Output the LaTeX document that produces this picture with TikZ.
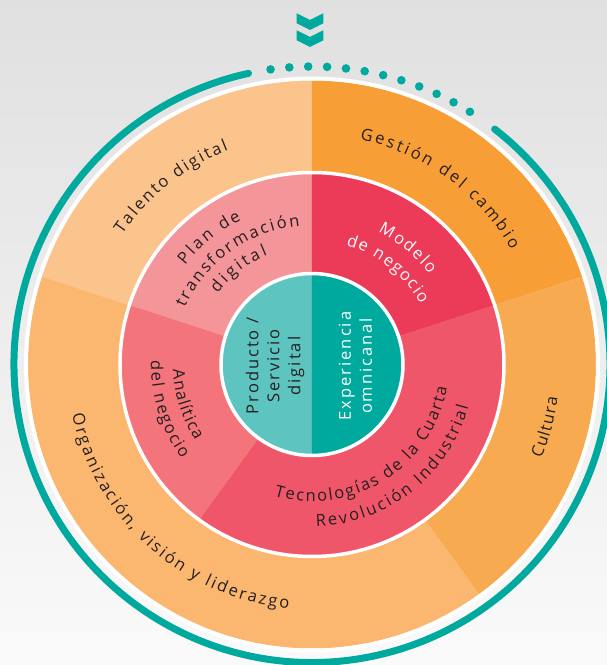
\documentclass[tikz,border=0pt]{standalone}
\usepackage{fontspec}
\setmainfont{Open Sans}
\newfontfamily\spacedfont[LetterSpace=12]{Open Sans}
\usetikzlibrary{decorations.text}
\definecolor{bgtop}{HTML}{E0E0E0}
\definecolor{bgbot}{HTML}{FAFAFA}
\definecolor{talento}{HTML}{FCC48D}
\definecolor{gestion}{HTML}{F89E36}
\definecolor{cultura}{HTML}{F8AA50}
\definecolor{organiz}{HTML}{FBB66F}
\definecolor{plan}{HTML}{F49599}
\definecolor{modelo}{HTML}{EC3B59}
\definecolor{tecno}{HTML}{F0566A}
\definecolor{analit}{HTML}{F3747A}
\definecolor{innerl}{HTML}{5EC4BF}
\definecolor{tealc}{HTML}{00A99D}
\definecolor{txt}{HTML}{231F20}
\newcommand\arcfont{\fontsize{16.5}{18}\selectfont}
\newcommand\innerfont{\spacedfont\fontsize{16.5}{21}\selectfont}
\newcommand\sectorfill[4]{\fill[#1] (0,0) -- (#2:#4) arc[start angle=#2,end angle=#3,radius=#4] -- cycle;}
\newcommand\ringtext[5]{\path[decorate,decoration={text along path,text align={fit to path},text={|\arcfont\color{#1}|#5}}] (#3:#2) arc[start angle=#3,end angle=#4,radius=#2];}
\begin{document}
\begin{tikzpicture}[x=1pt,y=1pt,
  whiteline/.style={draw=white,line width=3.5},
  chevron/.style={fill=tealc}]
\useasboundingbox (-312,-300.5) rectangle (295,364.5);
\shade[top color=bgtop,bottom color=bgbot] (-312,-300.5) rectangle (295,364.5);
% teal outer arc and dots
\draw[tealc,line width=7,line cap=round] (102.3:298) arc[start angle=102.3,end angle=412.2,radius=298];
\foreach \i in {0,...,11}{\fill[tealc] ({98-\i*40/11}:298) circle (4.3);}
% chevrons
\fill[chevron] (-15.3,351.2) -- (-2,344.5) -- (11.3,351.2) -- (11.3,341.2) -- (-2,334.5) -- (-15.3,341.2) -- cycle;
\fill[chevron] (-15.3,334.2) -- (-2,327.5) -- (11.3,334.2) -- (11.3,324.2) -- (-2,317.5) -- (-15.3,324.2) -- cycle;
% outer ring
\sectorfill{talento}{90}{162}{284}
\sectorfill{gestion}{18}{90}{284}
\sectorfill{cultura}{-54}{18}{284}
\sectorfill{organiz}{162}{306}{284}
\draw[draw=white,line width=4] (0,0) circle (286);
% middle ring
\sectorfill{plan}{90}{162}{192}
\sectorfill{modelo}{18}{90}{192}
\sectorfill{tecno}{234}{378}{192}
\sectorfill{analit}{162}{234}{192}
\draw[whiteline] (0,0) circle (192);
% inner circle
\sectorfill{innerl}{90}{270}{91}
\sectorfill{tealc}{-90}{90}{91}
\draw[whiteline] (0,0) circle (91);
% outer ring texts
\ringtext{txt}{230}{145.5}{111.3}{Talento digital}
\ringtext{txt}{230}{78}{30}{Gestión del cambio}
\ringtext{txt}{248}{-22.3}{-7.7}{Cultura}
\ringtext{txt}{245}{191.8}{264.5}{Organización, visión y liderazgo}
% middle ring texts
\ringtext{txt}{161}{142}{116}{Plan de}
\ringtext{txt}{139}{156}{95}{transformación}
\ringtext{txt}{118}{143}{112}{digital}
\ringtext{white}{148}{63.5}{37.5}{Modelo}
\ringtext{white}{124}{74}{29}{de negocio}
\ringtext{txt}{137}{254}{350.5}{Tecnologías de la Cuarta}
\ringtext{txt}{162}{271.5}{345}{Revolución Industrial}
\ringtext{txt}{139}{182}{213}{Analítica}
\ringtext{txt}{161}{178.5}{216}{del negocio}
% inner texts
\node[rotate=90,align=center,font=\innerfont,text=txt,inner sep=0] (prod) at (-37,-1.5) {Producto /\\Servicio\\digital};
\node[rotate=90,align=center,font=\innerfont,text=white,inner sep=0] (exp) at (43.5,-1.5) {Experiencia\\omnicanal};
\end{tikzpicture}
\end{document}
